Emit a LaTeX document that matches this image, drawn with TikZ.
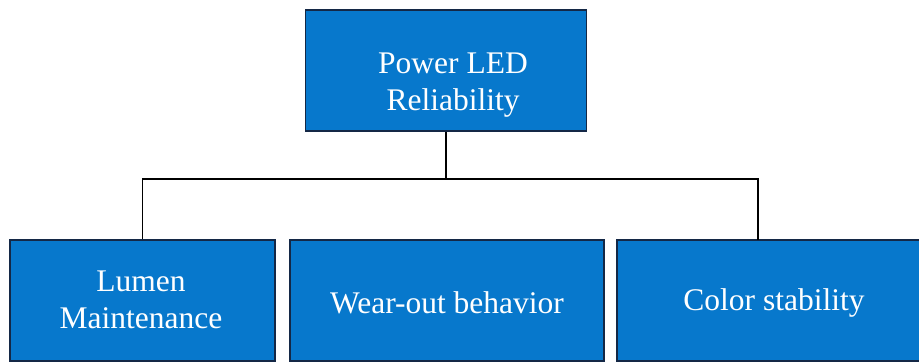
\documentclass[tikz,border=0pt]{standalone}
\usepackage{fontspec}
\setmainfont{Liberation Serif}
\definecolor{boxblue}{RGB}{7,120,204}
\definecolor{boxedge}{RGB}{20,40,70}
\begin{document}
\begin{tikzpicture}[x=1pt,y=-1pt,
  bluebox/.style={draw=boxedge,line width=1.4pt,fill=boxblue,inner sep=0pt},
  label/.style={text=white,font=\fontsize{31.5}{36.5}\selectfont,align=center,inner sep=0pt},
  link/.style={draw=black,line width=1.5pt}]
  \useasboundingbox (0,0) rectangle (919,362);
  % boxes
  \node[bluebox,minimum width=281pt,minimum height=121pt] (top) at (446,70.5) {};
  \node[bluebox,minimum width=265pt,minimum height=121pt] (lumen) at (142.5,300.5) {};
  \node[bluebox,minimum width=314pt,minimum height=121pt] (wear) at (447,300.5) {};
  \node[bluebox,minimum width=314pt,minimum height=121pt] (color) at (774,300.5) {};
  % connectors: trunk from the top box, then a bus to the outer boxes
  \coordinate (bus) at (446,179);
  \coordinate (colortap) at (758,240);
  \draw[link] (top.south) -- (bus);
  \draw[link] (lumen.north) |- (bus) -| (colortap);
  % labels
  \node[label] (toptext) at (453,85) {Power LED\\ Reliability};
  \node[label] (lumentext) at (141,300) {Lumen\\ Maintenance};
  \node[label] (weartext) at (447,303) {Wear-out behavior};
  \node[label] (colortext) at (774,303) {Color stability};
\end{tikzpicture}
\end{document}
